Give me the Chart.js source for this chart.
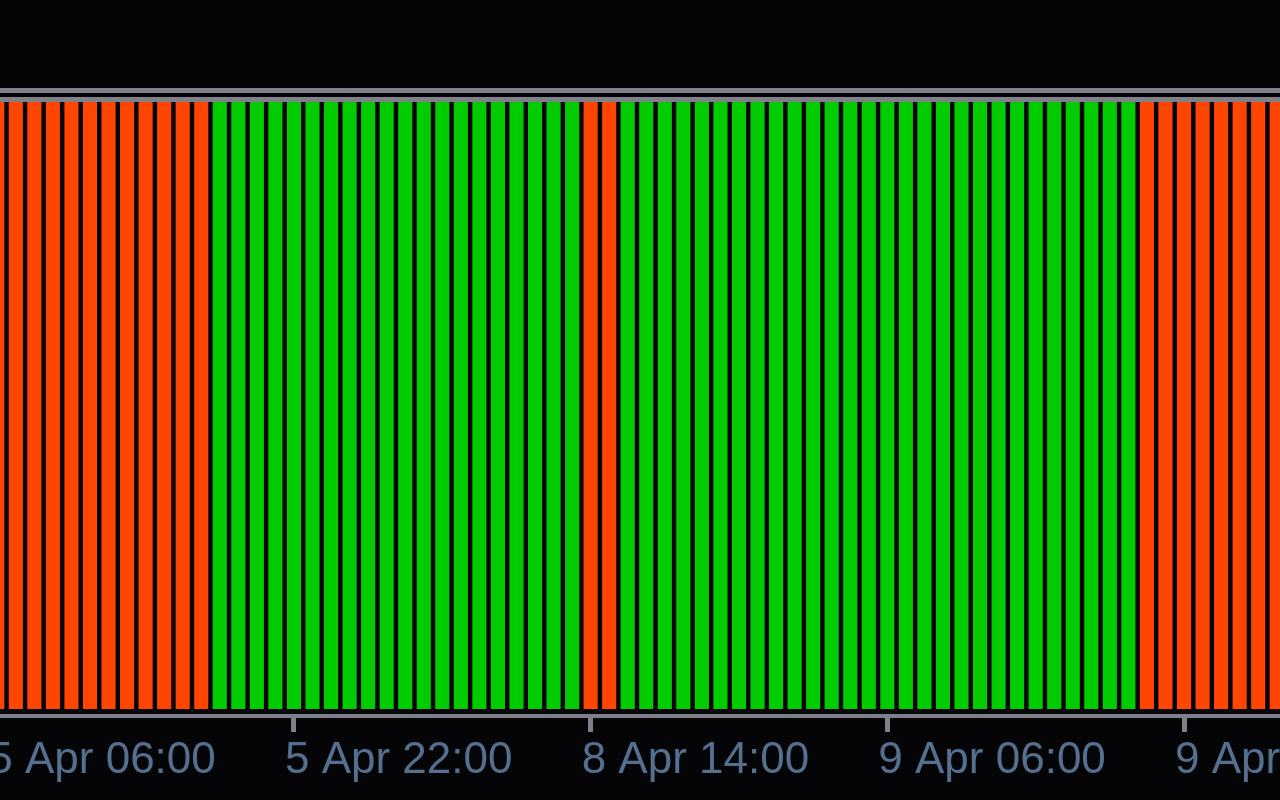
<!DOCTYPE html>
<html lang="en">
<head>
  <meta charset="UTF-8" />
  <title>Hourly Trend Bars</title>
  <script src="https://cdn.jsdelivr.net/npm/chart.js"></script>
  <style>
    html, body { margin: 0; padding: 0; width: 1280px; height: 800px; overflow: hidden; background: #050508; }
    .rule { position: absolute; left: 0; width: 1280px; height: 5px; background: #80808a; }
    #wrap { position: absolute; left: -12px; top: 0; width: 1298px; height: 800px; }
  </style>
</head>
<body>
  <div class="rule" style="top:88px"></div>
  <div class="rule" style="top:97px"></div>
  <div id="wrap"><canvas id="chart"></canvas></div>

  <script>
    // hourly bars, weekend (6-7 Apr) skipped
    const categories = [
      '5 Apr 06:00','5 Apr 07:00','5 Apr 08:00','5 Apr 09:00','5 Apr 10:00','5 Apr 11:00',
      '5 Apr 12:00','5 Apr 13:00','5 Apr 14:00','5 Apr 15:00','5 Apr 16:00','5 Apr 17:00',
      '5 Apr 18:00','5 Apr 19:00','5 Apr 20:00','5 Apr 21:00','5 Apr 22:00','5 Apr 23:00',
      '8 Apr 00:00','8 Apr 01:00','8 Apr 02:00','8 Apr 03:00','8 Apr 04:00','8 Apr 05:00',
      '8 Apr 06:00','8 Apr 07:00','8 Apr 08:00','8 Apr 09:00','8 Apr 10:00','8 Apr 11:00',
      '8 Apr 12:00','8 Apr 13:00','8 Apr 14:00','8 Apr 15:00','8 Apr 16:00','8 Apr 17:00',
      '8 Apr 18:00','8 Apr 19:00','8 Apr 20:00','8 Apr 21:00','8 Apr 22:00','8 Apr 23:00',
      '9 Apr 00:00','9 Apr 01:00','9 Apr 02:00','9 Apr 03:00','9 Apr 04:00','9 Apr 05:00',
      '9 Apr 06:00','9 Apr 07:00','9 Apr 08:00','9 Apr 09:00','9 Apr 10:00','9 Apr 11:00',
      '9 Apr 12:00','9 Apr 13:00','9 Apr 14:00','9 Apr 15:00','9 Apr 16:00','9 Apr 17:00',
      '9 Apr 18:00','9 Apr 19:00','9 Apr 20:00','9 Apr 21:00','9 Apr 22:00','9 Apr 23:00',
      '10 Apr 00:00','10 Apr 01:00','10 Apr 02:00','10 Apr 03:00'
    ];

    // 1 = up (green), -1 = down (red)
    const trend = [
      -1,-1,-1,-1,-1,-1,-1,-1,-1,-1,-1,-1,
       1, 1, 1, 1, 1, 1, 1, 1, 1, 1, 1, 1, 1, 1, 1, 1, 1, 1, 1, 1,
      -1,-1,
       1, 1, 1, 1, 1, 1, 1, 1, 1, 1, 1, 1, 1, 1, 1, 1, 1, 1, 1, 1, 1, 1, 1, 1, 1, 1, 1, 1,
      -1,-1,-1,-1,-1,-1,-1,-1
    ];

    // every bar is drawn full height
    const values = [
      1,1,1,1,1,1,1,1,1,1,1,1,1,1,1,1,1,1,1,1,1,1,1,1,1,1,1,1,1,1,1,1,1,1,1,
      1,1,1,1,1,1,1,1,1,1,1,1,1,1,1,1,1,1,1,1,1,1,1,1,1,1,1,1,1,1,1,1,1,1,1
    ];

    const tickLabels = ['5 Apr 06:00', '5 Apr 22:00', '8 Apr 14:00', '9 Apr 06:00', '9 Apr 22:00'];

    const UP = '#00cc00';
    const DOWN = '#ff4500';
    const GREY = '#80808a';

    new Chart(document.getElementById('chart'), {
      type: 'bar',
      data: {
        labels: categories,
        datasets: [{
          data: values,
          backgroundColor: trend.map(t => t > 0 ? UP : DOWN),
          borderWidth: 0,
          barPercentage: 0.76,
          categoryPercentage: 1
        }]
      },
      options: {
        responsive: true,
        maintainAspectRatio: false,
        animation: false,
        layout: { padding: { top: 102, left: 0, right: 0, bottom: 0 } },
        plugins: { legend: { display: false }, tooltip: { enabled: false } },
        scales: {
          x: {
            afterFit: scale => { scale.height = 84; },
            grid: {
              offset: false,
              drawOnChartArea: false,
              tickLength: 16,
              tickWidth: 5,
              tickColor: ctx => tickLabels.includes(categories[ctx.index]) ? GREY : 'rgba(0,0,0,0)'
            },
            border: { display: true, color: GREY, width: 4 },
            ticks: {
              autoSkip: false,
              maxRotation: 0,
              minRotation: 0,
              align: 'start',
              labelOffset: -9,
              padding: 2,
              color: '#55708e',
              font: { family: 'Liberation Sans', size: 44, lineHeight: 1.2 },
              callback: (v, i) => tickLabels.includes(categories[i]) ? categories[i] : ''
            }
          },
          y: {
            display: false,
            min: -0.0115,
            max: 1
          }
        }
      }
    });
  </script>
</body>
</html>
